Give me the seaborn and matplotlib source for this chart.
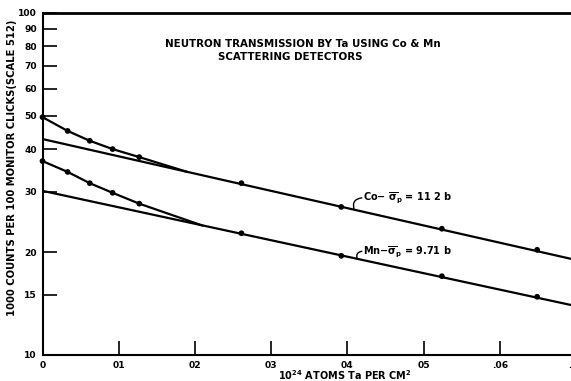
import numpy as np
import pandas as pd
import matplotlib
matplotlib.use("Agg")
import matplotlib.pyplot as plt
import seaborn as sns
from matplotlib.ticker import FixedLocator, NullLocator

# ---- data ----
thickness = [0.0, 0.0033, 0.0062, 0.0092, 0.0127, 0.0261, 0.0392, 0.0524, 0.0649]
co_counts = [49.6, 45.2, 42.3, 40.0, 37.9, 31.8, 27.1, 23.4, 20.3]
mn_counts = [36.9, 34.3, 31.8, 29.8, 27.7, 22.7, 19.5, 17.0, 14.8]

# hand-drawn curves through the early points, merging into the straight lines
co_curve_x = [0.0, 0.0033, 0.0062, 0.0092, 0.0127, 0.0190]
co_curve_y = [49.6, 45.2, 42.3, 40.0, 37.9, 34.3]
mn_curve_x = [0.0, 0.0033, 0.0062, 0.0092, 0.0127, 0.0210]
mn_curve_y = [36.9, 34.3, 31.8, 29.8, 27.7, 23.9]

# straight (exponential) fit lines: end values
fit_x = [0.0, 0.07]
co_fit = [42.8, 18.96]
mn_fit = [30.2, 13.9]

y_ticks = [10, 15, 20, 30, 40, 50, 60, 70, 80, 90, 100]
y_ticklabels = ["10", "15", "20", "30", "40", "50", "60", "70", "80", "90", "100"]
x_ticks = [0.0, 0.01, 0.02, 0.03, 0.04, 0.05, 0.06, 0.07]
x_ticklabels = ["0", "01", "02", "03", "04", "05", ".06", ".07"]

title_1 = "NEUTRON TRANSMISSION BY Ta USING Co & Mn"
title_2 = "SCATTERING DETECTORS"
co_label = r"Co$-\ \overline{\sigma}_p$ = 11 2 b"
mn_label = r"Mn$-\overline{\sigma}_p$ = 9.71 b"
y_label = "1000 COUNTS PER 100 MONITOR CLICKS(SCALE 512)"
x_label = r"$\mathbf{10^{24}}$ ATOMS Ta PER CM$\mathbf{^2}$"

# ---- build frames ----
pts = pd.DataFrame({
    "x": thickness * 2,
    "y": co_counts + mn_counts,
    "det": ["Co"] * len(thickness) + ["Mn"] * len(thickness),
})
curves = pd.DataFrame({
    "x": co_curve_x + mn_curve_x,
    "y": co_curve_y + mn_curve_y,
    "det": ["Co"] * len(co_curve_x) + ["Mn"] * len(mn_curve_x),
})
fits = pd.DataFrame({
    "x": fit_x * 2,
    "y": co_fit + mn_fit,
    "det": ["Co"] * 2 + ["Mn"] * 2,
})

sns.set_style("ticks")
plt.rcParams["font.family"] = ["DejaVu Sans"]
plt.rcParams["font.weight"] = "bold"
plt.rcParams["mathtext.default"] = "bf"
plt.rcParams["text.color"] = "black"

fig = plt.figure(figsize=(5.71, 3.81), dpi=100)
W, H = 571, 381
x0, x7 = 42.5, 576.0
ytop, ybot = 13.0, 355.0
ax = fig.add_axes([x0 / W, 1 - ybot / H, (x7 - x0) / W, (ybot - ytop) / H])

pal = {"Co": "black", "Mn": "black"}
sns.lineplot(data=fits, x="x", y="y", hue="det", palette=pal, lw=1.6,
             legend=False, ax=ax, estimator=None, sort=False)
sns.lineplot(data=curves, x="x", y="y", hue="det", palette=pal, lw=1.6,
             legend=False, ax=ax, estimator=None, sort=False)
sns.scatterplot(data=pts, x="x", y="y", hue="det", palette=pal, s=17,
                edgecolor="black", linewidth=0, legend=False, ax=ax, zorder=5,
                clip_on=False)

ax.set_yscale("log")
ax.set_xlim(0, 0.07)
ax.set_ylim(10, 100)
ax.yaxis.set_major_locator(FixedLocator(y_ticks))
ax.yaxis.set_minor_locator(NullLocator())
ax.set_yticklabels(y_ticklabels)
ax.xaxis.set_major_locator(FixedLocator(x_ticks))
ax.xaxis.set_minor_locator(NullLocator())
ax.set_xticklabels(x_ticklabels)
ax.tick_params(axis="both", direction="in", length=10, width=1.2,
               labelsize=6.6, colors="black")
ax.tick_params(axis="y", pad=4)
ax.tick_params(axis="x", pad=4)
for lab in ax.get_xticklabels() + ax.get_yticklabels():
    lab.set_fontweight("bold")

ax.spines["top"].set_linewidth(2.0)
ax.spines["left"].set_linewidth(1.5)
ax.spines["bottom"].set_linewidth(1.5)
for s in ("top", "left", "bottom"):
    ax.spines[s].set_color("black")
ax.spines["right"].set_visible(False)
ax.set_xlabel("")
ax.set_ylabel("")

# titles
ax.text(0.2296, 0.909, title_1, transform=ax.transAxes, ha="left",
        va="center", fontsize=7.4, fontweight="bold")
ax.text(0.329, 0.871, title_2, transform=ax.transAxes, ha="left",
        va="center", fontsize=7.4, fontweight="bold")


def on_line(xv, fx, fy):
    return float(np.exp(np.interp(xv, fx, np.log(fy))))


# line labels with squiggle connectors
ax.text(0.0421, 28.8, co_label, ha="left", va="center", fontsize=7,
        fontweight="bold")
ax.text(0.0421, 20.1, mn_label, ha="left", va="center", fontsize=7,
        fontweight="bold")
for lab_y, fy, xl in [(28.8, co_fit, 0.0409), (20.1, mn_fit, 0.0413)]:
    ax.annotate("", xy=(xl, on_line(xl, fit_x, fy)), xytext=(0.0419, lab_y),
                arrowprops=dict(arrowstyle="-", color="black", lw=1.0,
                                connectionstyle="arc3,rad=0.6",
                                shrinkA=0, shrinkB=0))

fig.text(12 / W, 1 - 168 / H, y_label, rotation=90, ha="center", va="center",
         fontsize=7.2, fontweight="bold")
fig.text(345 / W, 1 - 375 / H, x_label, ha="center", va="center",
         fontsize=7, fontweight="bold")

fig.savefig("out.png", dpi=100)
